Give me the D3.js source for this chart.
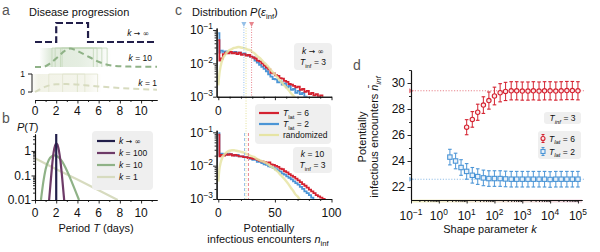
<!DOCTYPE html>
<html>
<head>
<meta charset="utf-8">
<script src="https://cdn.jsdelivr.net/npm/d3@7"></script>
<style>
body { margin: 0; background: #fff; }
svg text { font-family: "Liberation Sans", Arial, sans-serif; fill: #111; }
</style>
</head>
<body>
<svg id="fig" width="600" height="252"></svg>
<script>
// ---------------- data ----------------
// a: infectiousness profile over time (days), three shape parameters
var dayTicks = [0, 2, 4, 6, 8, 10];
var aInfT = [0, 2, 2, 5, 5, 11.5];
var aInfP = [0, 0, 1, 1, 0, 0];
var a10T = [0, 0.7, 1.5, 2.2, 2.8, 3.3, 3.8, 4.5, 5.2, 5.8, 6.5, 7.2, 8, 9, 10, 11.5];
var a10P = [0, 0, 0.22, 0.55, 0.85, 0.97, 0.9, 0.7, 0.5, 0.32, 0.17, 0.08, 0.04, 0.02, 0.01, 0.01];
var a1T = [0, 1, 2, 3, 4, 5, 6, 8, 10, 11.5];
var a1P = [0, 0.3, 0.43, 0.44, 0.41, 0.36, 0.31, 0.22, 0.16, 0.13];
var a10Start = [1.6, 1.9, 2.4, 2.55];
var a10End = [5.5, 5.85, 6.3, 6.8];
var a1Start = [1.3, 2.6, 4.0];
var a1End = [4.7, 4.0, 5.9];

// b: period distributions P(T)
var bLabels = [" → ∞", " = 100", " = 10", " = 1"];
var bInfT = [2, 2];
var bInfP = [0.01, 4.9];
var b100T = [1.33, 1.45, 1.6, 1.75, 1.9, 2.0, 2.1, 2.25, 2.4, 2.55, 2.75];
var b100P = [0.01, 0.04, 0.22, 0.85, 1.7, 1.98, 1.85, 1.05, 0.38, 0.09, 0.01];
var b10T = [0.56, 0.8, 1.0, 1.3, 1.6, 1.8, 2.1, 2.5, 3.0, 3.5, 4.15];
var b10P = [0.01, 0.06, 0.18, 0.43, 0.61, 0.66, 0.6, 0.4, 0.16, 0.05, 0.01];
var b1T = [0, 2, 4, 6, 7.8];
var b1P = [0.5, 0.18, 0.068, 0.025, 0.01];

// c: distribution of potentially infectious encounters
var cBins = [0, 1, 2, 4, 6, 8, 10, 12, 14, 16, 18, 20, 22, 24, 26, 28, 30, 32, 34, 36, 38, 40,
  42, 44, 46, 48, 50, 52, 54, 56, 58, 60, 62, 64, 66, 68, 70, 72, 74, 76, 78, 80, 82, 84, 86, 88, 90, 92, 94];
var cTopBlue = [0.08, 0.021, 0.024, 0.022, 0.023, 0.021, 0.022, 0.021, 0.022, 0.020, 0.021, 0.019, 0.020, 0.018,
  0.017, 0.016, 0.015, 0.012, 0.0105, 0.009, 0.0078, 0.0068, 0.0058, 0.0047, 0.0040, 0.0034, 0.0033, 0.0027,
  0.0029, 0.0023, 0.0025, 0.0019, 0.0021, 0.0016, 0.0017, 0.0013, 0.0015, 0.0012, 0.0013, 0.001, 0.0009];
var cTopRed = [0.05, 0.012, 0.014, 0.019, 0.021, 0.020, 0.022, 0.020, 0.021, 0.019, 0.021, 0.018, 0.019, 0.017,
  0.018, 0.016, 0.015, 0.014, 0.012, 0.0115, 0.010, 0.0085, 0.0074, 0.0066, 0.0052, 0.0050, 0.0044, 0.0042,
  0.0036, 0.0035, 0.0030, 0.0028, 0.0024, 0.0023, 0.0021, 0.0019, 0.0020, 0.0016, 0.0017, 0.0014, 0.0015,
  0.0012, 0.0013, 0.0011, 0.0012, 0.001, 0.0011, 0.0009];
var cTopRand = [0.0022, 0.005, 0.008, 0.014, 0.018, 0.022, 0.025, 0.027, 0.029, 0.030, 0.031, 0.030, 0.029,
  0.028, 0.026, 0.025, 0.022, 0.02, 0.017, 0.015, 0.013, 0.011, 0.0095, 0.008, 0.0066, 0.0055, 0.0047, 0.0039,
  0.0032, 0.0027, 0.0022, 0.0019, 0.0016, 0.0013, 0.0011, 0.00095];
var cBotBlue = [0.095, 0.021, 0.023, 0.022, 0.021, 0.023, 0.022, 0.021, 0.020, 0.021, 0.019, 0.019, 0.018, 0.018,
  0.017, 0.016, 0.015, 0.015, 0.013, 0.013, 0.012, 0.011, 0.0105, 0.0095, 0.0092, 0.0085, 0.0078, 0.0072,
  0.0066, 0.0058, 0.0054, 0.0048, 0.0043, 0.0039, 0.0034, 0.003, 0.0027, 0.0023, 0.002, 0.0017, 0.0015,
  0.0013, 0.0011, 0.00095];
var cBotRed = [0.085, 0.019, 0.021, 0.020, 0.022, 0.021, 0.022, 0.020, 0.021, 0.020, 0.019, 0.019, 0.018, 0.018,
  0.017, 0.017, 0.016, 0.016, 0.015, 0.014, 0.0135, 0.013, 0.012, 0.0125, 0.011, 0.0105, 0.0098, 0.0092,
  0.0082, 0.0078, 0.0068, 0.0063, 0.0056, 0.005, 0.0046, 0.0041, 0.0036, 0.0032, 0.0028, 0.0025, 0.0022,
  0.0019, 0.0017, 0.0015, 0.0013, 0.0012, 0.0011, 0.001, 0.0009];
var cBotRand = [0.0033, 0.008, 0.012, 0.019, 0.023, 0.026, 0.028, 0.029, 0.029, 0.028, 0.027, 0.026, 0.025,
  0.023, 0.022, 0.02, 0.019, 0.018, 0.016, 0.015, 0.014, 0.013, 0.0122, 0.011, 0.0098, 0.0088, 0.0078, 0.0068,
  0.0058, 0.0049, 0.0041, 0.0034, 0.0028, 0.0022, 0.0018, 0.0014, 0.0012, 0.00095];
var cMeanTop = [29.4, 22.6];   // red, blue
var cMeanBot = [26.6, 23.2];
var cMeanRand = 24.5;

// d: mean potentially infectious encounters vs shape parameter k
var kRed = [10, 16, 25, 40, 63, 100, 160, 250, 400, 630, 1000, 1600, 2500, 4000, 6300, 10000, 16000, 25000,
  40000, 63000, 100000];
var nRed = [26.6, 27.2, 27.75, 28.3, 28.65, 29.0, 29.25, 29.35, 29.4, 29.4, 29.38, 29.38, 29.4, 29.38, 29.4,
  29.4, 29.38, 29.4, 29.42, 29.42, 29.4];
var eRed = [0.58, 0.6, 0.62, 0.64, 0.66, 0.68, 0.7, 0.7, 0.7, 0.7, 0.7, 0.7, 0.7, 0.7, 0.7, 0.7, 0.7, 0.7, 0.7,
  0.7, 0.7];
var kBlue = [2.5, 4, 6.3, 10, 16, 25, 40, 63, 100, 160, 250, 400, 630, 1000, 1600, 2500, 4000, 6300, 10000,
  16000, 25000, 40000, 63000, 100000];
var nBlue = [24.3, 24.0, 23.5, 23.2, 22.9, 22.8, 22.7, 22.65, 22.65, 22.65, 22.62, 22.6, 22.6, 22.6, 22.6, 22.6,
  22.6, 22.6, 22.58, 22.6, 22.6, 22.6, 22.6, 22.6];
var eBlue = [0.6, 0.6, 0.6, 0.6, 0.6, 0.6, 0.6, 0.6, 0.6, 0.6, 0.6, 0.6, 0.6, 0.6, 0.6, 0.6, 0.6, 0.6, 0.6, 0.6,
  0.6, 0.6, 0.6, 0.6];
var dLimit = [29.4, 22.6];
var dYTicks = [22, 24, 26, 28, 30];
var dXTicks = [0.1, 1, 10, 100, 1000, 10000, 100000];
var dXExp = ["−1", "0", "1", "2", "3", "4", "5"];

// ---------------- colours ----------------
var cNavy = "#221f4a", cPlum = "#6e3b68", cSage = "#8fb287", cPale = "#d7dbbf";
var cRed = "#d42230", cBlue = "#4b95d6", cYel = "#e6e4a4";
var legendFill = "#efefef";
var fTick = 12, fLab = 11, fLeg = 8.5;

var svg = d3.select("#fig");
var defs = svg.append("defs");

// ---------------- scales ----------------
var xDay = d3.scaleLinear().domain([0, 11.5]).range([35, 157]);
var rowInf = d3.scaleLinear().domain([0, 1]).range([42, 23]);
var row10 = d3.scaleLinear().domain([0, 1]).range([67, 48]);
var row1 = d3.scaleLinear().domain([0, 1]).range([92, 74]);
var yB = d3.scaleLog().domain([0.01, 4.9]).range([200, 134]);
var xC = d3.scaleLinear().domain([-1.5, 100]).range([216.6, 331.5]);
var yCtop = d3.scaleLog().domain([0.001, 0.115]).range([96.7, 28]);
var yCbot = d3.scaleLog().domain([0.001, 0.115]).range([199, 130.3]);
var xD = d3.scaleLog().domain([0.1, 1.4e5]).range([411, 582]);
var yD = d3.scaleLinear().domain([21, 31]).range([200, 70]);

// ---------------- helpers ----------------
// parts: [text, style]; style "i" italic, "sub"/"subi" subscript, "sup" superscript, "s" symbol font
function rich(g, x, y, parts, size, anchor, fill) {
  var t = g.append("text").attr("x", x).attr("y", y).attr("font-size", size)
    .attr("text-anchor", anchor || "start");
  if (fill) t.style("fill", fill);
  var shift = 0;
  parts.forEach(function(p) {
    var s = p[1] || "";
    var target = (s == "sub" || s == "subi") ? size * 0.3 : (s == "sup" ? -size * 0.42 : 0);
    var ts = t.append("tspan").text(p[0]).attr("dy", target - shift);
    shift = target;
    if (s == "i" || s == "subi") ts.attr("font-style", "italic");
    if (s == "sub" || s == "subi" || s == "sup") ts.attr("font-size", size * 0.7);
    if (s == "s") ts.style("font-family", "'DejaVu Sans', sans-serif").attr("font-size", size * 0.9);
  });
  return t;
}

function axis(gen, scale, major, minor, tx, ty) {
  var g = svg.append("g").attr("transform", "translate(" + tx + "," + ty + ")");
  g.append("g").call(gen(scale).tickValues(minor).tickSize(2).tickSizeOuter(0).tickFormat(""));
  g.append("g").call(gen(scale).tickValues(major).tickSize(3.5).tickSizeOuter(0).tickFormat(""));
  g.selectAll("path.domain").attr("stroke", "#111").attr("stroke-width", 1.1);
  g.selectAll("line").attr("stroke", "#111").attr("stroke-width", 0.9);
  g.selectAll("text").remove();
  return g;
}

function pathOf(xs, ys, sx, sy, curve) {
  return d3.line()
    .x(function(d, i) { return sx(xs[i]); })
    .y(function(d) { return sy(d); })
    .curve(curve || d3.curveLinear)(ys);
}

function clip(id, x0, y0, x1, y1) {
  defs.append("clipPath").attr("id", id).append("rect")
    .attr("x", x0).attr("y", y0).attr("width", x1 - x0).attr("height", y1 - y0);
  return "url(#" + id + ")";
}

function logMinor(lo, hi) {
  var out = [];
  for (var e = Math.floor(Math.log10(lo)); e <= Math.ceil(Math.log10(hi)); e++) {
    for (var m = 2; m <= 9; m++) {
      var v = m * Math.pow(10, e);
      if (v >= lo && v <= hi) out.push(v);
    }
  }
  return out;
}

// ---------------- panel a ----------------
rich(svg, 2, 15, [["a"]], 14, "start", "#555");
rich(svg, 29, 16, [["Disease progression"]], fLab);

var grad10 = defs.append("linearGradient").attr("id", "grad10").attr("gradientUnits", "userSpaceOnUse")
  .attr("x1", xDay(0.4)).attr("x2", xDay(7.2)).attr("y1", 0).attr("y2", 0);
[[0, 0], [0.15, 0.35], [0.55, 0.3], [0.8, 0.18], [1, 0]].forEach(function(s) {
  grad10.append("stop").attr("offset", s[0]).attr("stop-color", "#a7c59b").attr("stop-opacity", s[1]);
});
var grad1 = defs.append("linearGradient").attr("id", "grad1").attr("gradientUnits", "userSpaceOnUse")
  .attr("x1", xDay(-0.5)).attr("x2", xDay(6.3)).attr("y1", 0).attr("y2", 0);
[[0, 0], [0.12, 0.5], [0.8, 0.4], [1, 0]].forEach(function(s) {
  grad1.append("stop").attr("offset", s[0]).attr("stop-color", "#e4e6cf").attr("stop-opacity", s[1]);
});

svg.append("rect").attr("x", xDay(0.4)).attr("y", row10(1)).attr("width", xDay(7.2) - xDay(0.4))
  .attr("height", row10(0) - row10(1)).attr("fill", "url(#grad10)");
svg.append("rect").attr("x", xDay(-0.5)).attr("y", row1(1)).attr("width", xDay(6.3) - xDay(-0.5))
  .attr("height", row1(0) - row1(1)).attr("fill", "url(#grad1)");

a10Start.forEach(function(s, i) {
  svg.append("path")
    .attr("d", "M" + xDay(s) + "," + row10(0) + "V" + row10(1) + "H" + xDay(a10End[i]) + "V" + row10(0))
    .attr("fill", "none").attr("stroke", "#c2d7b8").attr("stroke-width", 0.8);
});
a1Start.forEach(function(s, i) {
  svg.append("path")
    .attr("d", "M" + xDay(s) + "," + row1(0) + "V" + row1(1) + "H" + xDay(a1End[i]) + "V" + row1(0))
    .attr("fill", "none").attr("stroke", "#e1e4ce").attr("stroke-width", 0.8);
});

svg.append("path").attr("d", pathOf(aInfT, aInfP, xDay, rowInf))
  .attr("fill", "none").attr("stroke", cNavy).attr("stroke-width", 2.2).attr("stroke-dasharray", "7,3");
svg.append("path").attr("d", pathOf(a10T, a10P, xDay, row10, d3.curveMonotoneX))
  .attr("fill", "none").attr("stroke", cSage).attr("stroke-width", 2).attr("stroke-dasharray", "6,4");
svg.append("path").attr("d", pathOf(a1T, a1P, xDay, row1, d3.curveMonotoneX))
  .attr("fill", "none").attr("stroke", cPale).attr("stroke-width", 2).attr("stroke-dasharray", "6,4");

rich(svg, 149, 36, [["k", "i"], [" → ∞", "s"]], fLeg, "end");
rich(svg, 152, 61, [["k", "i"], [" = 10"]], fLeg, "end");
rich(svg, 157, 86, [["k", "i"], [" = 1"]], fLeg, "end");

svg.append("path").attr("d", "M28," + row1(1) + "H32V" + row1(0) + "H28")
  .attr("fill", "none").attr("stroke", "#222").attr("stroke-width", 1);
rich(svg, 25, row1(1) + 3, [["1"]], 8.5, "end");
rich(svg, 25, row1(0) + 3, [["0"]], 8.5, "end");

axis(d3.axisBottom, xDay, dayTicks, [1, 3, 5, 7, 9, 11], 0, 100);
dayTicks.forEach(function(v) { rich(svg, xDay(v), 115, [[String(v)]], fTick, "middle"); });

// ---------------- panel b ----------------
rich(svg, 2, 123, [["b"]], 14, "start", "#555");
rich(svg, 17, 131, [["P", "i"], ["("], ["T", "i"], [")"]], fLab);
var clipB = clip("clipB", 35, 134, 157, 200);
var gb = svg.append("g").attr("clip-path", clipB);
gb.append("path").attr("d", pathOf(b1T, b1P, xDay, yB)).attr("fill", "none").attr("stroke", cPale).attr("stroke-width", 2.2);
gb.append("path").attr("d", pathOf(b10T, b10P, xDay, yB, d3.curveMonotoneX)).attr("fill", "none").attr("stroke", cSage).attr("stroke-width", 2.2);
gb.append("path").attr("d", pathOf(b100T, b100P, xDay, yB, d3.curveMonotoneX)).attr("fill", "none").attr("stroke", cPlum).attr("stroke-width", 2.2);
gb.append("path").attr("d", pathOf(bInfT, bInfP, xDay, yB)).attr("fill", "none").attr("stroke", cNavy).attr("stroke-width", 2.2);

axis(d3.axisBottom, xDay, dayTicks, [1, 3, 5, 7, 9, 11], 0, 200);
axis(d3.axisLeft, yB, [0.01, 0.1, 1], logMinor(0.01, 4.9), 35, 0);
dayTicks.forEach(function(v) { rich(svg, xDay(v), 216.5, [[String(v)]], fTick, "middle"); });
[[0.01, "0.01"], [0.1, "0.1"], [1, "1"]].forEach(function(t) { rich(svg, 31, yB(t[0]) + 4.3, [[t[1]]], fTick, "end"); });
rich(svg, 96, 232, [["Period "], ["T", "i"], ["  (days)"]], fLab, "middle");

svg.append("rect").attr("x", 92).attr("y", 131).attr("width", 61).attr("height", 59).attr("rx", 4).attr("fill", legendFill);
[cNavy, cPlum, cSage, cPale].forEach(function(c, i) {
  var y = 141 + i * 12;
  svg.append("line").attr("x1", 97).attr("x2", 115).attr("y1", y).attr("y2", y).attr("stroke", c).attr("stroke-width", 2.2);
  rich(svg, 119, y + 3, [["k", "i"], [bLabels[i], i == 0 ? "s" : ""]], fLeg);
});

// ---------------- panel c ----------------
rich(svg, 175, 15, [["c"]], 14, "start", "#555");
rich(svg, 192, 16, [["Distribution  "], ["P", "i"], ["("], ["ε", "i"], ["inf", "sub"], [")"]], fLab);

// randomized mean line across both panels
svg.append("line").attr("x1", xC(cMeanRand)).attr("x2", xC(cMeanRand)).attr("y1", 28).attr("y2", 199)
  .attr("stroke", "#e4e19a").attr("stroke-width", 1).attr("stroke-dasharray", "1,1.5");

function cPanel(yS, blue, red, rand, clipId, y0, y1) {
  var g = svg.append("g").attr("clip-path", clip(clipId, 216.6, y0, 332, y1));
  g.append("path").attr("d", pathOf(cBins, blue, xC, yS, d3.curveStepAfter))
    .attr("fill", "none").attr("stroke", cBlue).attr("stroke-width", 1.8);
  g.append("path").attr("d", pathOf(cBins, red, xC, yS, d3.curveStepAfter))
    .attr("fill", "none").attr("stroke", cRed).attr("stroke-width", 1.8);
  g.append("path").attr("d", pathOf(cBins, rand, xC, yS, d3.curveMonotoneX))
    .attr("fill", "none").attr("stroke", cYel).attr("stroke-width", 2.4).attr("stroke-opacity", 0.85);
}
cPanel(yCtop, cTopBlue, cTopRed, cTopRand, "clipCt", 28, 96.7);
cPanel(yCbot, cBotBlue, cBotRed, cBotRand, "clipCb", 130.3, 199);

// mean markers
[[cMeanTop[0], "#e8868e"], [cMeanTop[1], "#95c0e8"]].forEach(function(m) {
  var x = xC(m[0]);
  svg.append("line").attr("x1", x).attr("x2", x).attr("y1", 27).attr("y2", 96.7)
    .attr("stroke", m[1]).attr("stroke-width", 1).attr("stroke-dasharray", "1,1.5");
  svg.append("path").attr("d", "M" + (x - 2.5) + ",22L" + (x + 2.5) + ",22L" + x + ",27Z").attr("fill", m[1]);
});
[[cMeanBot[0], "#e8868e"], [cMeanBot[1], "#95c0e8"]].forEach(function(m) {
  var x = xC(m[0]);
  svg.append("line").attr("x1", x).attr("x2", x).attr("y1", 133).attr("y2", 199)
    .attr("stroke", m[1]).attr("stroke-width", 1).attr("stroke-dasharray", "3,2");
});

var cMinor = [10, 20, 30, 40, 60, 70, 80, 90];
axis(d3.axisBottom, xC, [0, 50, 100], cMinor, 0, 96.7);
axis(d3.axisLeft, yCtop, [0.001, 0.01, 0.1], logMinor(0.001, 0.115), 216.6, 0);
axis(d3.axisBottom, xC, [0, 50, 100], cMinor, 0, 199);
axis(d3.axisLeft, yCbot, [0.001, 0.01, 0.1], logMinor(0.001, 0.115), 216.6, 0);
rich(svg, xC(0), 115, [["0"]], fTick, "middle");
[0, 50, 100].forEach(function(v) { rich(svg, xC(v), 216.5, [[String(v)]], fTick, "middle"); });
[[0.1, "−1"], [0.01, "−2"], [0.001, "−3"]].forEach(function(t) {
  rich(svg, 213, yCtop(t[0]) + 4.3, [["10"], [t[1], "sup"]], fTick, "end");
  rich(svg, 213, yCbot(t[0]) + 4.3, [["10"], [t[1], "sup"]], fTick, "end");
});
rich(svg, 269, 232, [["Potentially"]], fLab, "middle");
rich(svg, 268, 243, [["infectious encounters  "], ["n", "i"], ["inf", "sub"]], fLab, "middle");

// boxes
svg.append("rect").attr("x", 294).attr("y", 43).attr("width", 38).attr("height", 27).attr("rx", 4).attr("fill", legendFill);
rich(svg, 313, 54, [["k", "i"], [" → ∞", "s"]], fLeg, "middle");
rich(svg, 313, 65, [["T", "i"], ["inf", "sub"], [" = 3"]], fLeg, "middle");
svg.append("rect").attr("x", 293).attr("y", 147).attr("width", 39).attr("height", 26).attr("rx", 4).attr("fill", legendFill);
rich(svg, 312.5, 157, [["k", "i"], [" = 10"]], fLeg, "middle");
rich(svg, 312.5, 168, [["T", "i"], ["inf", "sub"], [" = 3"]], fLeg, "middle");

svg.append("rect").attr("x", 255).attr("y", 104).attr("width", 76).attr("height", 40).attr("rx", 4).attr("fill", legendFill);
[[cRed, [["T", "i"], ["lat", "sub"], [" = 6"]]], [cBlue, [["T", "i"], ["lat", "sub"], [" = 2"]]], [cYel, [["randomized"]]]]
  .forEach(function(e, i) {
    var y = 113 + i * 11;
    svg.append("line").attr("x1", 259).attr("x2", 279).attr("y1", y).attr("y2", y).attr("stroke", e[0]).attr("stroke-width", 2.2);
    rich(svg, 283, y + 3, e[1], fLeg);
  });

// ---------------- panel d ----------------
rich(svg, 353, 70, [["d"]], 14, "start", "#555");

var gradD = defs.append("linearGradient").attr("id", "gradD").attr("gradientUnits", "userSpaceOnUse")
  .attr("x1", 412).attr("x2", 582).attr("y1", 0).attr("y2", 0);
gradD.append("stop").attr("offset", 0).attr("stop-color", "#f1efc6");
gradD.append("stop").attr("offset", 1).attr("stop-color", "#efd3de");
svg.append("rect").attr("x", 412).attr("y", 199.5).attr("width", 170).attr("height", 3).attr("fill", "url(#gradD)");

var gd = svg.append("g").attr("clip-path", clip("clipD", 405, 70, 590, 200));
[[dLimit[0], "#e8868e"], [dLimit[1], "#95c0e8"]].forEach(function(m) {
  var y = yD(m[0]);
  gd.append("line").attr("x1", 412).attr("x2", 585).attr("y1", y).attr("y2", y)
    .attr("stroke", m[1]).attr("stroke-width", 1.1).attr("stroke-dasharray", "1.2,1.6");
  gd.append("path").attr("d", "M409," + (y - 2.5) + "L414," + y + "L409," + (y + 2.5) + "Z").attr("fill", m[1]);
});

function errBars(ks, ns, es, color) {
  ks.forEach(function(k, i) {
    var x = xD(k), y0 = yD(ns[i] - es[i]), y1 = yD(ns[i] + es[i]);
    gd.append("line").attr("x1", x).attr("x2", x).attr("y1", y0).attr("y2", y1)
      .attr("stroke", color).attr("stroke-width", 1.1).attr("stroke-opacity", 0.9);
    [y0, y1].forEach(function(y) {
      gd.append("line").attr("x1", x - 1.8).attr("x2", x + 1.8).attr("y1", y).attr("y2", y)
        .attr("stroke", color).attr("stroke-width", 1.1);
    });
  });
}
errBars(kBlue, nBlue, eBlue, cBlue);
errBars(kRed, nRed, eRed, cRed);
kBlue.forEach(function(k, i) {
  gd.append("rect").attr("x", xD(k) - 2.2).attr("y", yD(nBlue[i]) - 2.2).attr("width", 4.4).attr("height", 4.4)
    .attr("fill", "#e8f1fa").attr("stroke", cBlue).attr("stroke-width", 1.1);
});
kRed.forEach(function(k, i) {
  gd.append("circle").attr("cx", xD(k)).attr("cy", yD(nRed[i])).attr("r", 2.2)
    .attr("fill", "#fbe9ea").attr("stroke", cRed).attr("stroke-width", 1.1);
});

axis(d3.axisBottom, xD, dXTicks, logMinor(0.1, 1.4e5), 0, 200);
axis(d3.axisLeft, yD, dYTicks, [23, 25, 27, 29, 31], 411, 0);
dXTicks.forEach(function(v, i) { rich(svg, xD(v), 220, [["10"], [dXExp[i], "sup"]], fTick, "middle"); });
dYTicks.forEach(function(v) { rich(svg, 405, yD(v) + 4.3, [[String(v)]], fTick, "end"); });
rich(svg, 490, 233, [["Shape parameter  "], ["k", "i"]], fLab, "middle");

var gt = svg.append("g").attr("transform", "translate(366,137) rotate(-90)");
rich(gt, 0, 0, [["Potentially"]], fLab, "middle");
rich(gt, 0, 12, [["infectious encounters  "], ["n\u0304", "i"], ["inf", "subi"]], fLab, "middle");

svg.append("rect").attr("x", 544).attr("y", 112).attr("width", 37).attr("height", 12).attr("rx", 3).attr("fill", legendFill);
rich(svg, 562.5, 121, [["T", "i"], ["inf", "subi"], [" = 3"]], fLeg, "middle");
svg.append("rect").attr("x", 538).attr("y", 131).attr("width", 43).attr("height", 28).attr("rx", 3).attr("fill", legendFill);
[[cRed, "6", 138.5, "c"], [cBlue, "2", 151.5, "s"]].forEach(function(e) {
  var x = 543, y = e[2];
  svg.append("line").attr("x1", x).attr("x2", x).attr("y1", y - 4).attr("y2", y + 4).attr("stroke", e[0]).attr("stroke-width", 1);
  svg.append("line").attr("x1", x - 1.5).attr("x2", x + 1.5).attr("y1", y - 4).attr("y2", y - 4).attr("stroke", e[0]);
  svg.append("line").attr("x1", x - 1.5).attr("x2", x + 1.5).attr("y1", y + 4).attr("y2", y + 4).attr("stroke", e[0]);
  if (e[3] == "c") svg.append("circle").attr("cx", x).attr("cy", y).attr("r", 2).attr("fill", "#fbe9ea").attr("stroke", e[0]).attr("stroke-width", 1.1);
  else svg.append("rect").attr("x", x - 2).attr("y", y - 2).attr("width", 4).attr("height", 4).attr("fill", "#e8f1fa").attr("stroke", e[0]).attr("stroke-width", 1.1);
  rich(svg, 549, y + 3, [["T", "i"], ["lat", "subi"], [" = " + e[1]]], fLeg);
});
</script>
</body>
</html>
